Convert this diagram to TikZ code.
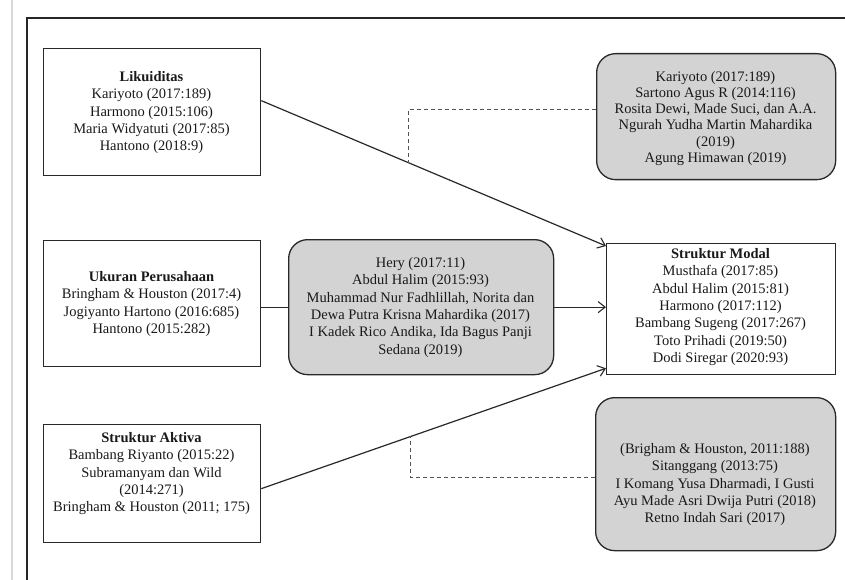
\documentclass[tikz,border=0pt]{standalone}
\usepackage{fontspec}
\setmainfont{Liberation Serif}
\usetikzlibrary{arrows.meta,calc}
\definecolor{boxgray}{RGB}{211,211,211}
\definecolor{edge}{RGB}{40,40,40}
\begin{document}
\begin{tikzpicture}[x=1pt,y=-1pt,
  box/.style={draw=edge, line width=1.3pt, fill=white, inner sep=0pt, anchor=north west},
  gbox/.style={draw=edge, line width=1.3pt, fill=boxgray, rounded corners=19pt, inner sep=0pt, anchor=north west},
  txt/.style={align=center, font=\fontsize{14.5}{17.4}\selectfont, anchor=north, inner sep=0pt, text=black!90},
  conn/.style={draw=edge, line width=1.2pt},
  arr/.style={conn, -{Straight Barb[length=7pt,width=11pt,line width=1.1pt]}},
  dsh/.style={draw=edge!80, line width=1.1pt, dash pattern=on 4pt off 3pt}]
\useasboundingbox (0,0) rectangle (845,580);
\fill[white] (0,0) rectangle (845,580);
% page guide and frame
\draw[line width=1.5pt, black!15] (12,0) -- (12,580);
\draw[line width=1.5pt, black!85] (845,18) -- (27,18) -- (27,580);

% boxes
\node[box, minimum width=217pt, minimum height=127pt] (lik) at (43,48) {};
\node[txt] (likT) at (151.5,71) {\textbf{Likuiditas}\\Kariyoto (2017:189)\\Harmono (2015:106)\\Maria Widyatuti (2017:85)\\Hantono (2018:9)};

\node[box, minimum width=217pt, minimum height=126pt] (uk) at (43,240) {};
\node[txt] (ukT) at (151.5,271) {\textbf{Ukuran Perusahaan}\\Bringham \& Houston (2017:4)\\Jogiyanto Hartono (2016:685)\\Hantono (2015:282)};

\node[box, minimum width=217pt, minimum height=118pt] (ak) at (43,424) {};
\node[txt] (akT) at (151.5,432) {\textbf{Struktur Aktiva}\\Bambang Riyanto (2015:22)\\Subramanyam dan Wild\\(2014:271)\\Bringham \& Houston (2011; 175)};

\node[box, minimum width=229pt, minimum height=131pt] (sm) at (606,243) {};
\node[txt] (smT) at (720.5,248) {\textbf{Struktur Modal}\\Musthafa (2017:85)\\Abdul Halim (2015:81)\\Harmono (2017:112)\\Bambang Sugeng (2017:267)\\Toto Prihadi (2019:50)\\Dodi Siregar (2020:93)};

\node[gbox, minimum width=239pt, minimum height=126pt] (tg) at (596,53) {};
\node[txt, font=\fontsize{14.5}{16.2}\selectfont] (tgT) at (715.5,71) {Kariyoto (2017:189)\\Sartono Agus R (2014:116)\\Rosita Dewi, Made Suci, dan A.A.\\Ngurah Yudha Martin Mahardika\\(2019)\\Agung Himawan (2019)};

\node[gbox, minimum width=265pt, minimum height=135pt] (mg) at (288,239) {};
\node[txt] (mgT) at (420.5,257) {Hery (2017:11)\\Abdul Halim (2015:93)\\Muhammad Nur Fadhlillah, Norita dan\\Dewa Putra Krisna Mahardika (2017)\\I Kadek Rico Andika, Ida Bagus Panji\\Sedana (2019)};

\node[gbox, minimum width=240pt, minimum height=153pt] (bg) at (595,397) {};
\node[txt] (bgT) at (715,443) {(Brigham \& Houston, 2011:188)\\Sitanggang (2013:75)\\I Komang Yusa Dharmadi, I Gusti\\Ayu Made Asri Dwija Putri (2018)\\Retno Indah Sari (2017)};

% connectors
\coordinate (l1) at ([yshift=11.5pt]lik.east);
\coordinate (l2) at ([yshift=-3pt]sm.north west);
\draw[arr] (l1) -- (l2);
\coordinate (d1) at ($(l1)!0.426!(l2)$);

\draw[conn] (mg.west -| uk.east) -- (mg.west);
\draw[arr] (mg.east) -- (mg.east -| sm.west);

\coordinate (a1) at ([yshift=-5pt]ak.east);
\coordinate (a2) at ([yshift=7pt]sm.south west);
\draw[arr] (a1) -- (a2);
\coordinate (d2) at ($(a1)!0.434!(a2)$);

\draw[dsh] ([yshift=7pt]tg.west) -| (d1);
\draw[dsh] ([yshift=-3.5pt]bg.west) -| (d2);
\end{tikzpicture}
\end{document}
